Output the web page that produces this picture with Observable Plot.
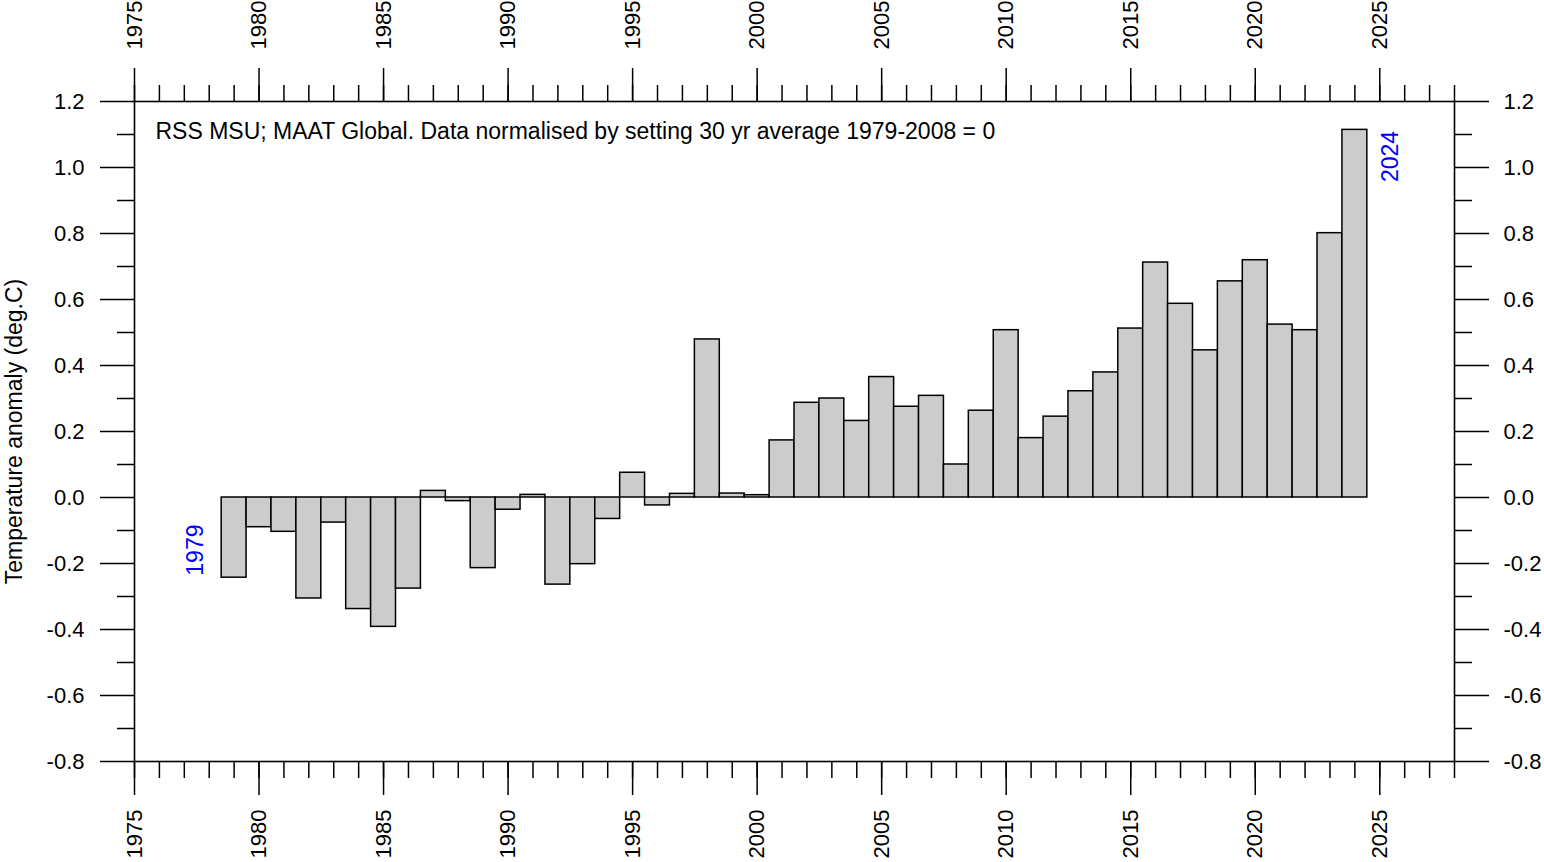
<!DOCTYPE html>
<html>
<head>
<meta charset="utf-8">
<script src="https://cdn.jsdelivr.net/npm/d3@7"></script>
<script src="https://cdn.jsdelivr.net/npm/@observablehq/plot@0.6"></script>
<style>
  html, body { margin: 0; padding: 0; background: #ffffff; }
  #chart { width: 1544px; height: 862px; overflow: hidden; }
  svg { overflow: hidden; }
</style>
</head>
<body>
<div id="chart"></div>
<script>
const years = d3.range(1979, 2025);
const anomalies = [
  -0.243, -0.090, -0.104, -0.306, -0.076, -0.338, -0.392, -0.276, 0.020, -0.011,
  -0.214, -0.037, 0.008, -0.264, -0.202, -0.065, 0.075, -0.024, 0.011, 0.479,
  0.012, 0.007, 0.173, 0.287, 0.300, 0.232, 0.365, 0.275, 0.308, 0.100,
  0.263, 0.507, 0.180, 0.245, 0.322, 0.379, 0.512, 0.712, 0.587, 0.446,
  0.655, 0.719, 0.524, 0.507, 0.801, 1.114
];
const xMajorTicks = [1975, 1980, 1985, 1990, 1995, 2000, 2005, 2010, 2015, 2020, 2025];
const xMinorTicks = d3.range(1975, 2029);
const yMajorTicks = [-0.8, -0.6, -0.4, -0.2, 0.0, 0.2, 0.4, 0.6, 0.8, 1.0, 1.2];
const yMinorTicks = [-0.7, -0.5, -0.3, -0.1, 0.1, 0.3, 0.5, 0.7, 0.9, 1.1];
const noteText = "RSS MSU; MAAT Global. Data normalised by setting 30 yr average 1979-2008 = 0";
const yTitle = "Temperature anomaly (deg.C)";

const data = years.map((year, i) => ({year, value: anomalies[i]}));
const first = data[0];
const last = data[data.length - 1];

const blank = () => "";
const fmtY = d => d.toFixed(1);
const fmtX = d => String(d);

const chart = Plot.plot({
  width: 1544,
  height: 862,
  marginLeft: 134,
  marginRight: 90,
  marginTop: 101,
  marginBottom: 101,
  style: {fontFamily: "'Liberation Sans', Arial, sans-serif", fontSize: "22px", color: "black", background: "white"},
  x: {type: "linear", domain: [1975, 2028]},
  y: {type: "linear", domain: [-0.8, 1.2]},
  marks: [
    Plot.rectY(data, {x1: d => d.year - 0.5, x2: d => d.year + 0.5, y1: 0, y2: "value", fill: "#cccccc", stroke: "black", strokeWidth: 1.5}),
    Plot.frame({stroke: "black", strokeWidth: 1.6}),
    // x minor ticks
    Plot.axisX({anchor: "bottom", ticks: xMinorTicks, tickSize: 17, tickFormat: blank, strokeWidth: 1.5, label: null}),
    Plot.axisX({anchor: "top", ticks: xMinorTicks, tickSize: 17, tickFormat: blank, strokeWidth: 1.5, label: null}),
    // x major ticks
    Plot.axisX({anchor: "bottom", ticks: xMajorTicks, tickSize: 34, tickPadding: 14, tickRotate: -90, tickFormat: fmtX, strokeWidth: 1.5, label: null, fontSize: 22}),
    Plot.axisX({anchor: "top", ticks: xMajorTicks, tickSize: 34, tickPadding: 18, tickRotate: -90, tickFormat: fmtX, strokeWidth: 1.5, label: null, fontSize: 22}),
    // y minor ticks
    Plot.axisY({anchor: "left", ticks: yMinorTicks, tickSize: 17, tickFormat: blank, strokeWidth: 1.5, label: null}),
    Plot.axisY({anchor: "right", ticks: yMinorTicks, tickSize: 17, tickFormat: blank, strokeWidth: 1.5, label: null}),
    // y major ticks
    Plot.axisY({anchor: "left", ticks: yMajorTicks, tickSize: 34, tickPadding: 16, tickFormat: fmtY, strokeWidth: 1.5, label: null, fontSize: 22}),
    Plot.axisY({anchor: "right", ticks: yMajorTicks, tickSize: 34, tickPadding: 15, tickFormat: fmtY, strokeWidth: 1.5, label: null, fontSize: 22}),
    // annotations
    Plot.text([noteText], {frameAnchor: "top-left", text: d => d, dx: 21, dy: 21, textAnchor: "start", lineAnchor: "top", fontSize: 23, fill: "black"}),
    Plot.text([yTitle], {frameAnchor: "left", text: d => d, rotate: -90, textAnchor: "middle", dx: -120, fontSize: 23, fill: "black"}),
    Plot.text([first], {x: "year", y: "value", text: d => String(d.year), rotate: -90, textAnchor: "start", dx: -38, dy: -2, fill: "#0000ff", fontSize: 23}),
    Plot.text([last], {x: "year", y: "value", text: d => String(d.year), rotate: -90, textAnchor: "end", dx: 36, dy: 1, fill: "#0000ff", fontSize: 23})
  ]
});
document.getElementById("chart").appendChild(chart);
</script>
</body>
</html>
